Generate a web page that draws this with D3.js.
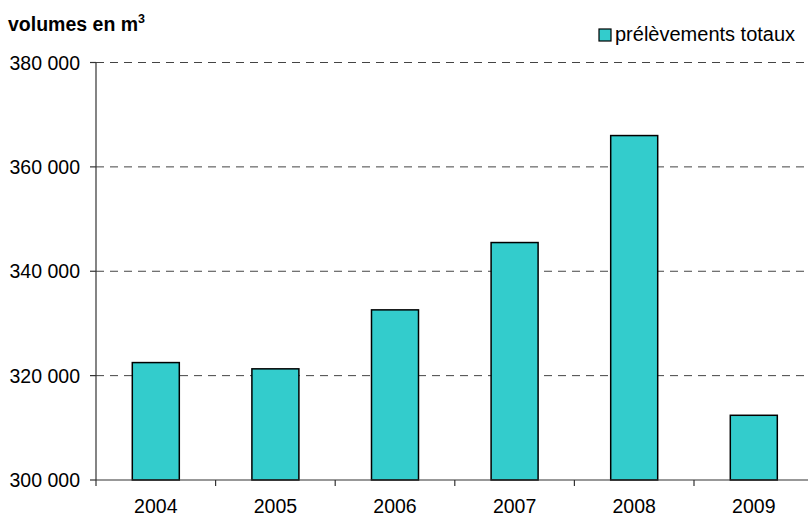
<!DOCTYPE html>
<html>
<head>
<meta charset="utf-8">
<script src="https://cdn.jsdelivr.net/npm/d3@7/dist/d3.min.js"></script>
<style>
  html, body { margin: 0; padding: 0; background: #fff; }
  svg { display: block; font-family: "Liberation Sans", Arial, sans-serif; }
</style>
</head>
<body>
<svg id="chart" width="808" height="517"></svg>
<script>
// Annual withdrawal volumes (m³)
const years = ["2004", "2005", "2006", "2007", "2008", "2009"];
const volumes = [322500, 321300, 332600, 345500, 366000, 312400];
const yTicks = [300000, 320000, 340000, 360000, 380000];
const seriesName = "prélèvements totaux";

(function () {
  const svg = d3.select("#chart");
  const plotLeft = 96, plotRight = 813.6, plotTop = 62.5, plotBottom = 480;
  const fill = "#33CCCC";

  const x = d3.scaleBand()
    .domain(years)
    .range([plotLeft, plotRight])
    .paddingInner(0.607)
    .paddingOuter(0.3035);

  const y = d3.scaleLinear()
    .domain([300000, 380000])
    .range([plotBottom, plotTop]);

  const fmt = v => d3.format(",")(v).replace(/,/g, " ");

  // dashed horizontal gridlines
  svg.append("g")
    .selectAll("line")
    .data(yTicks.filter(t => t > 300000))
    .join("line")
    .attr("x1", plotLeft).attr("x2", 808)
    .attr("y1", d => y(d)).attr("y2", d => y(d))
    .attr("stroke", "#444")
    .attr("stroke-width", 1)
    .attr("stroke-dasharray", "8,6");

  // bars
  svg.append("g")
    .selectAll("rect")
    .data(years.map((yr, i) => ({ yr, v: volumes[i] })))
    .join("rect")
    .attr("x", d => x(d.yr))
    .attr("y", d => y(d.v))
    .attr("width", x.bandwidth())
    .attr("height", d => y(300000) - y(d.v))
    .attr("fill", fill)
    .attr("stroke", "#000")
    .attr("stroke-width", 1.5);

  // y axis
  const yAxis = svg.append("g");
  yAxis.append("line")
    .attr("x1", plotLeft).attr("x2", plotLeft)
    .attr("y1", plotTop).attr("y2", plotBottom + 6)
    .attr("stroke", "#333").attr("stroke-width", 1.2);
  yAxis.selectAll("line.tick")
    .data(yTicks)
    .join("line")
    .attr("class", "tick")
    .attr("x1", plotLeft - 6).attr("x2", plotLeft)
    .attr("y1", d => y(d)).attr("y2", d => y(d))
    .attr("stroke", "#333").attr("stroke-width", 1.2);
  yAxis.selectAll("text")
    .data(yTicks)
    .join("text")
    .attr("x", 80)
    .attr("y", d => y(d))
    .attr("dy", "0.36em")
    .attr("text-anchor", "end")
    .attr("font-size", 19.5)
    .attr("fill", "#000")
    .text(fmt);

  // x axis
  const xAxis = svg.append("g");
  xAxis.append("line")
    .attr("x1", plotLeft).attr("x2", 808)
    .attr("y1", plotBottom).attr("y2", plotBottom)
    .attr("stroke", "#333").attr("stroke-width", 1.2);
  const step = x.step();
  xAxis.selectAll("line.tick")
    .data(years.slice(1))
    .join("line")
    .attr("class", "tick")
    .attr("x1", d => x(d) - step * x.paddingInner() / 2)
    .attr("x2", d => x(d) - step * x.paddingInner() / 2)
    .attr("y1", plotBottom).attr("y2", plotBottom + 6)
    .attr("stroke", "#333").attr("stroke-width", 1.2);
  xAxis.selectAll("text")
    .data(years)
    .join("text")
    .attr("x", d => x(d) + x.bandwidth() / 2)
    .attr("y", 513)
    .attr("text-anchor", "middle")
    .attr("font-size", 19.5)
    .attr("fill", "#000")
    .text(d => d);

  // unit title
  const title = svg.append("text")
    .attr("x", 8).attr("y", 31)
    .attr("font-size", 19.5)
    .attr("font-weight", "bold")
    .attr("fill", "#000");
  title.append("tspan").text("volumes en m");
  title.append("tspan")
    .attr("font-size", 12.5)
    .attr("dy", -8)
    .text("3");

  // legend
  const legend = svg.append("g");
  legend.append("rect")
    .attr("x", 599).attr("y", 29)
    .attr("width", 12).attr("height", 12)
    .attr("fill", fill)
    .attr("stroke", "#000")
    .attr("stroke-width", 1.2);
  legend.append("text")
    .attr("x", 615).attr("y", 41)
    .attr("font-size", 20)
    .attr("fill", "#000")
    .text(seriesName);
})();
</script>
</body>
</html>
